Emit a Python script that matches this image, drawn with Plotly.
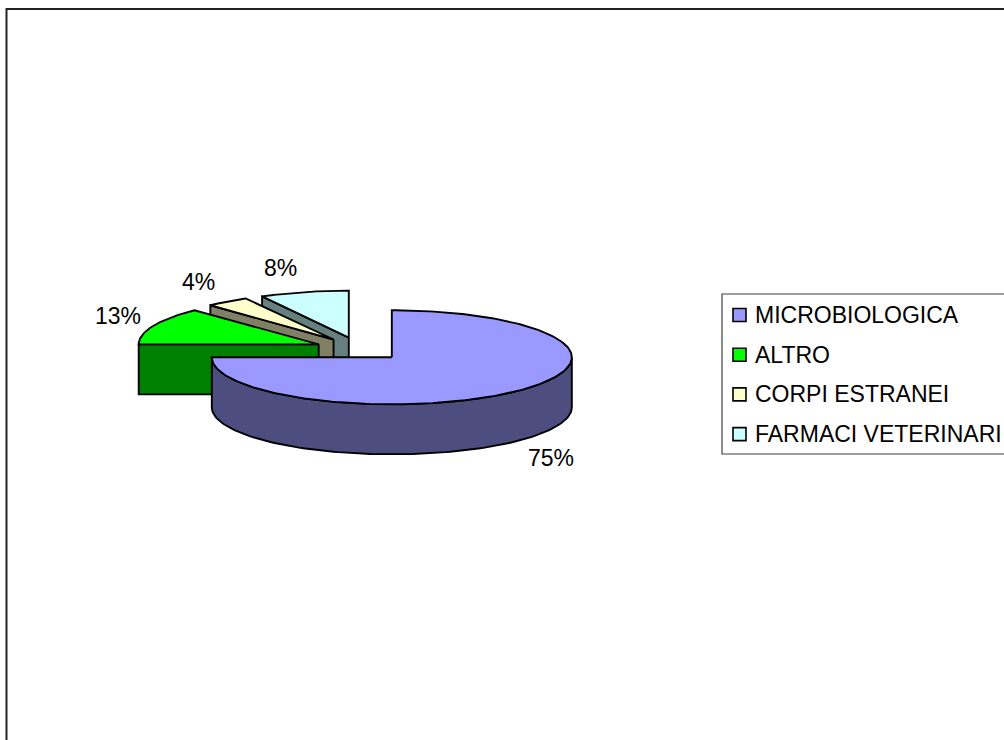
import numpy as np
import plotly.graph_objects as go

# ---- data ----
categories = ["MICROBIOLOGICA", "ALTRO", "CORPI ESTRANEI", "FARMACI VETERINARI"]
values = [75, 13, 4, 8]
top_colors = ["#9999FF", "#00FF00", "#FFFFCC", "#CCFFFF"]
side_colors = ["#4D4D80", "#008000", "#808066", "#668080"]

# ---- geometry / style constants (pixel space) ----
W, H = 1004, 740
CX, CY = 360.0, 349.0     # pie centre
RX, RY = 180.0, 47.0      # ellipse radii
DEPTH = 50.0
EXPLODE = 0.25
LW = 1.9
FONT = "Liberation Sans, Arial, sans-serif"
FS = 23

fig = go.Figure()

def poly(xs, ys, fill):
    xs = list(xs) + [xs[0]]
    ys = list(ys) + [ys[0]]
    fig.add_trace(go.Scatter(x=xs, y=ys, mode="lines", fill="toself",
                             fillcolor=fill, line=dict(color="black", width=LW),
                             hoverinfo="skip", showlegend=False))

total = float(sum(values))
# angles: start at 12 o'clock (math 90 deg), go clockwise
slices = []
cum = 0.0
for i, v in enumerate(values):
    a_start = 90.0 - 360.0 * cum / total
    cum += v
    a_end = 90.0 - 360.0 * cum / total
    ts, te = np.radians(a_end), np.radians(a_start)  # ts < te
    mid = 0.5 * (ts + te)
    ax = CX + EXPLODE * RX * np.cos(mid)
    ay = CY - EXPLODE * RY * np.sin(mid)
    slices.append(dict(i=i, ts=ts, te=te, mid=mid, ax=ax, ay=ay))

def ex(ax, t):
    return ax + RX * np.cos(t)

def ey(ay, t):
    return ay - RY * np.sin(t)

# draw back to front
order = sorted(slices, key=lambda s: s["ay"])
for s in order:
    i, ts, te, ax, ay = s["i"], s["ts"], s["te"], s["ax"], s["ay"]
    # radial faces facing the viewer
    for t, nrm in ((ts, ts - np.pi / 2), (te, te + np.pi / 2)):
        if np.sin(nrm) < -1e-6:
            px, py = ex(ax, t), ey(ay, t)
            poly([ax, px, px, ax], [ay, py, py + DEPTH, ay + DEPTH], side_colors[i])
    # outer curved side (front half of the ellipse)
    segs = []
    for shift in (0.0, 2 * np.pi, -2 * np.pi):
        b0, b1 = max(ts + shift, -np.pi), min(te + shift, 0.0)
        if b1 - b0 > 1e-6:
            segs.append((b0, b1))
    for b0, b1 in segs:
        tt = np.linspace(b0, b1, 120)
        xs = np.concatenate([ex(ax, tt), ex(ax, tt[::-1])])
        ys = np.concatenate([ey(ay, tt), ey(ay, tt[::-1]) + DEPTH])
        poly(xs, ys, side_colors[i])
    # top face
    tt = np.linspace(ts, te, 200)
    xs = np.concatenate([[ax], ex(ax, tt)])
    ys = np.concatenate([[ay], ey(ay, tt)])
    poly(xs, ys, top_colors[i])

# percentage labels
for s in slices:
    i, mid = s["i"], s["mid"]
    c, sn = np.cos(mid), np.sin(mid)
    lx = s["ax"] + 1.1 * RX * c + np.sign(c) * 19
    ly = s["ay"] - 1.52 * RY * sn + (DEPTH if sn < 0 else 0)
    pct = f"{round(100 * values[i] / total)}%"
    fig.add_annotation(x=lx, y=ly, text=pct, showarrow=False,
                       xanchor="center", yanchor="middle",
                       font=dict(family=FONT, size=FS, color="black"))

# legend (drawn manually)
LEG_X0, LEG_Y0, LEG_Y1 = 722, 294, 454
fig.add_shape(type="rect", x0=LEG_X0, y0=LEG_Y0, x1=W + 20, y1=LEG_Y1,
              line=dict(color="#404040", width=1.2), fillcolor="rgba(0,0,0,0)")
row_y = [LEG_Y0 + 21 + 39.7 * k for k in range(len(categories))]
fig.add_trace(go.Scatter(x=[739.5] * len(categories), y=row_y, mode="markers",
                         marker=dict(symbol="square", size=13, color=top_colors,
                                     line=dict(color="black", width=1.6)),
                         hoverinfo="skip", showlegend=False))
for k, name in enumerate(categories):
    fig.add_annotation(x=753, y=row_y[k], text=name, showarrow=False,
                       xanchor="left", yanchor="middle",
                       font=dict(family=FONT, size=FS, color="black"))

# outer chart border
fig.add_shape(type="rect", x0=6.5, y0=9, x1=W + 20, y1=H + 20,
              line=dict(color="#222222", width=2), fillcolor="rgba(0,0,0,0)")

fig.update_layout(
    width=W, height=H, margin=dict(l=0, r=0, t=0, b=0),
    paper_bgcolor="white", plot_bgcolor="white",
    xaxis=dict(range=[0, W], visible=False, fixedrange=True),
    yaxis=dict(range=[H, 0], visible=False, fixedrange=True),
    showlegend=False,
)

fig.write_html("out.html", config={"displayModeBar": False},
               post_script="document.body.style.margin='0';document.body.style.overflow='hidden';")
